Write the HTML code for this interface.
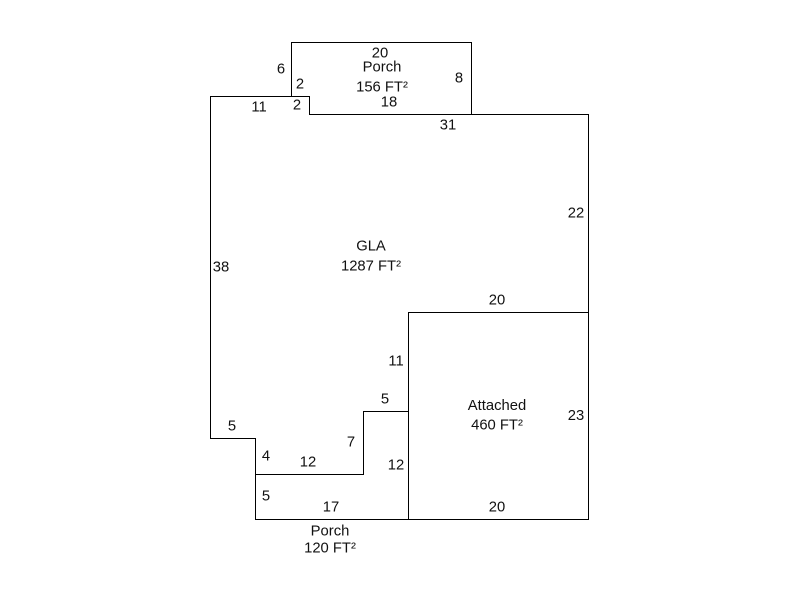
<!DOCTYPE html>
<html><head><meta charset="utf-8"><style>
html,body{margin:0;padding:0;background:#fff}
svg{display:block}
text{font-family:"Liberation Sans",sans-serif;font-size:14.8px;fill:#111;text-anchor:middle}
</style></head><body>
<svg width="800" height="600" viewBox="0 0 800 600" xmlns="http://www.w3.org/2000/svg">
<g fill="none" stroke="#000" stroke-width="1" shape-rendering="crispEdges">
<path d="M210.5 96.5H309.5V114.5H588.5V519.5H255.5V438.5H210.5Z"/>
<path d="M291.5 96.5V42.5H471.5V114.5"/>
<path d="M408.5 519.5V312.5H588.5"/>
<path d="M255.5 474.5H363.5V411.5H408.5"/>
</g>
<g transform="translate(0,-0.5)">
<text x="380" y="58">20</text>
<text x="382" y="72">Porch</text>
<text x="382" y="92">156 FT²</text>
<text x="389" y="107">18</text>
<text x="281" y="74">6</text>
<text x="300" y="89">2</text>
<text x="297" y="110">2</text>
<text x="259" y="112">11</text>
<text x="459" y="83">8</text>
<text x="448" y="130">31</text>
<text x="576" y="218">22</text>
<text x="371" y="251">GLA</text>
<text x="371" y="271">1287 FT²</text>
<text x="221" y="272">38</text>
<text x="497" y="305">20</text>
<text x="396" y="366">11</text>
<text x="385" y="404">5</text>
<text x="497" y="410.5">Attached</text>
<text x="497" y="430">460 FT²</text>
<text x="576" y="420.5">23</text>
<text x="232" y="431">5</text>
<text x="351" y="447">7</text>
<text x="266" y="461">4</text>
<text x="308" y="467">12</text>
<text x="396" y="470">12</text>
<text x="266" y="501">5</text>
<text x="331" y="512">17</text>
<text x="497" y="512">20</text>
<text x="330" y="536">Porch</text>
<text x="330" y="553">120 FT²</text>
</g>
</svg>
</body></html>
